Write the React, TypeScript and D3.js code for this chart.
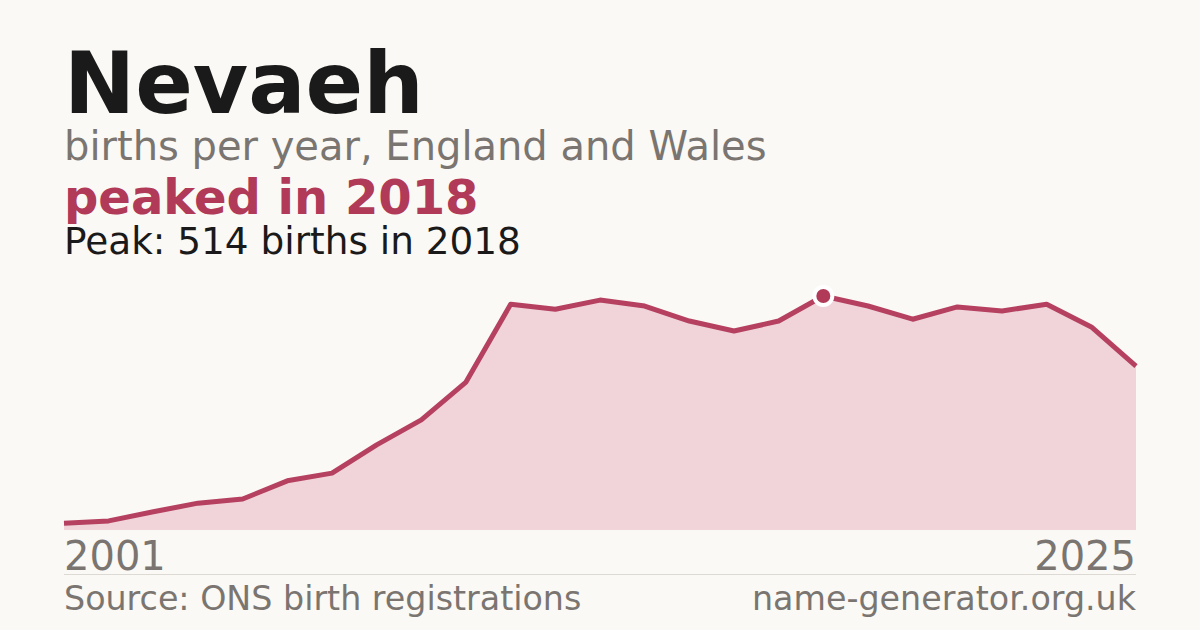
import React from "react";
import * as d3 from "d3";

const years: number[] = [2001,2002,2003,2004,2005,2006,2007,2008,2009,2010,2011,2012,2013,2014,2015,2016,2017,2018,2019,2020,2021,2022,2023,2024,2025];
const births: number[] = [15,20,40,59,68,108,125,187,242,325,496,485,505,492,459,437,459,514,492,463,490,481,496,446,360];
const startLabel = "2001";
const endLabel = "2025";
const peakYear = 2018;
const peakValue = 514;

const W = 1200, H = 630;
const ACCENT = "#b03a58";
const FONT = "'DejaVu Sans', sans-serif";

export default function App() {
  const x = d3.scaleLinear().domain([years[0], years[years.length - 1]]).range([64, 1136]);
  const y = d3.scaleLinear().domain([0, peakValue]).range([530, 296]);
  const data = years.map((yr, i) => ({ yr, v: births[i] }));
  const line = d3.line<{ yr: number; v: number }>().x(d => x(d.yr)).y(d => y(d.v));
  const area = d3.area<{ yr: number; v: number }>().x(d => x(d.yr)).y0(y(0)).y1(d => y(d.v));
  return (
    <svg width={W} height={H} viewBox={`0 0 ${W} ${H}`} style={{ position: "absolute", left: 0, top: 0, display: "block" }}>
      <rect width={W} height={H} fill="#faf9f5" />
      <text x={64} y={113} fontFamily={FONT} fontWeight="bold" fontSize={85} fill="#1a1a1a">Nevaeh</text>
      <text x={64} y={160} fontFamily={FONT} fontSize={40} fill="#7a7570">births per year, England and Wales</text>
      <text x={64} y={214} fontFamily={FONT} fontWeight="bold" fontSize={48} fill={ACCENT}>peaked in 2018</text>
      <text x={64} y={254} fontFamily={FONT} fontSize={37.4} fill="#1a1a1a">Peak: {peakValue} births in {peakYear}</text>
      <path d={area(data) || ""} fill="#f0d4da" />
      <path d={line(data) || ""} fill="none" stroke="#b5405f" strokeWidth={5} strokeLinejoin="round" />
      <circle cx={x(peakYear)} cy={y(peakValue)} r={9} fill={ACCENT} stroke="#ffffff" strokeWidth={4} />
      <text x={64} y={570} fontFamily={FONT} fontSize={40} fill="#7a7570">{startLabel}</text>
      <text x={1136} y={570} fontFamily={FONT} fontSize={40} fill="#7a7570" textAnchor="end">{endLabel}</text>
      <line x1={64} x2={1136} y1={574.5} y2={574.5} stroke="#dddad4" strokeWidth={1} />
      <text x={64} y={610} fontFamily={FONT} fontSize={33.3} fill="#7a7570">Source: ONS birth registrations</text>
      <text x={1136} y={610} fontFamily={FONT} fontSize={33.3} fill="#7a7570" textAnchor="end">name-generator.org.uk</text>
    </svg>
  );
}
